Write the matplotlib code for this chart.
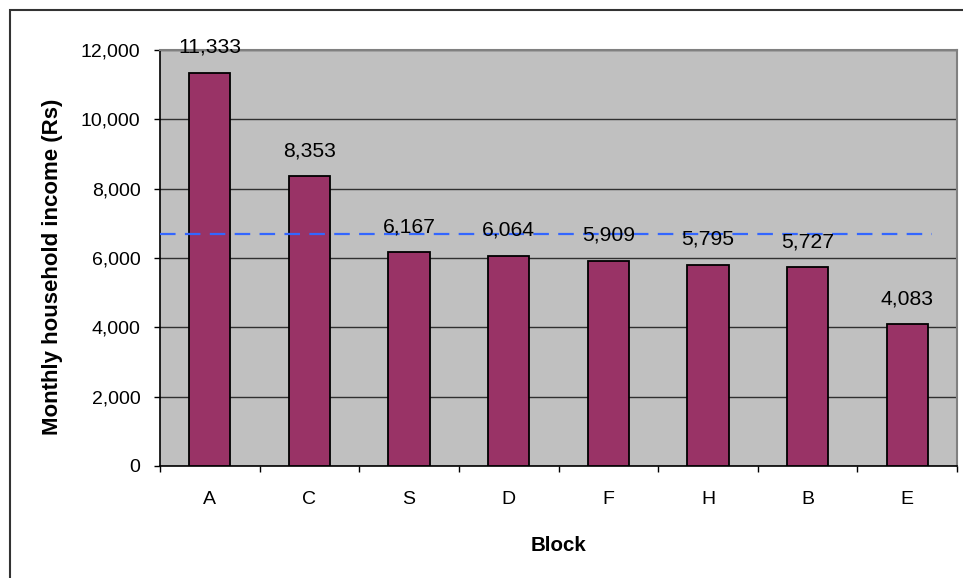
import matplotlib
matplotlib.use("Agg")
import matplotlib.pyplot as plt
from matplotlib.patches import Rectangle
from matplotlib.ticker import FuncFormatter, MultipleLocator

plt.rcParams['font.family'] = ['Liberation Sans', 'DejaVu Sans']

blocks = ["A", "C", "S", "D", "F", "H", "B", "E"]
income = [11333, 8353, 6167, 6064, 5909, 5795, 5727, 4083]
average_income = 6700

W, H, DPI = 963, 578, 100
fig = plt.figure(figsize=(W / DPI, H / DPI), dpi=DPI)
fig.patch.set_facecolor("white")

left, right, top, bottom = 160, 957, 50, 466
ax = fig.add_axes([left / W, (H - bottom) / H, (right - left) / W, (bottom - top) / H])
ax.set_facecolor("#C0C0C0")

x = list(range(len(blocks)))
ax.bar(x, income, width=0.415, color="#993366", edgecolor="black", linewidth=1.3, zorder=3)

ax.set_xlim(-0.5, len(blocks) - 0.5)
ax.set_ylim(0, 12000)
ax.yaxis.set_major_locator(MultipleLocator(2000))
ax.yaxis.set_major_formatter(FuncFormatter(lambda v, p: f"{int(v):,}"))
ax.grid(axis="y", color="#303030", linewidth=1.0, zorder=1)
ax.set_axisbelow(True)

# average income reference line
ax.plot([-0.5, 7.25], [average_income, average_income], color="#3366FF",
        linestyle=(0, (7, 4.2)), linewidth=1.6, zorder=4)

for xi, v in zip(x, income):
    ax.annotate(f"{v:,}", (xi, v), xytext=(0, 18.5), textcoords="offset points",
                ha="center", va="center", fontsize=15.2, color="black", zorder=5)

ax.set_xticks(x)
ax.set_xticklabels(blocks)
ax.set_xticks([i - 0.5 for i in range(len(blocks) + 1)], minor=True)
ax.tick_params(axis="x", which="major", length=0, pad=18, labelsize=14)
ax.tick_params(axis="x", which="minor", length=4, width=1, direction="out")
ax.tick_params(axis="y", length=4, width=1, direction="out", pad=10, labelsize=14)

for side in ("left", "bottom"):
    ax.spines[side].set_color("black")
    ax.spines[side].set_linewidth(1.2)
for side in ("top", "right"):
    ax.spines[side].set_color("#808080")
    ax.spines[side].set_linewidth(1.5)

ax.set_xlabel("Block", fontsize=14.8, fontweight="bold")
ax.xaxis.set_label_coords(0.5, -(536 - bottom) / (bottom - top))
ax.set_ylabel("Monthly household income (Rs)", fontsize=16, fontweight="bold")
ax.yaxis.set_label_coords(-(left - 63) / (right - left), 0.478)

fig.add_artist(Rectangle((10 / W, -0.1), 2, 1 - 10 / H + 0.1, transform=fig.transFigure,
                         fill=False, edgecolor="#333333", linewidth=1.5))

fig.savefig("out.png", dpi=DPI)
